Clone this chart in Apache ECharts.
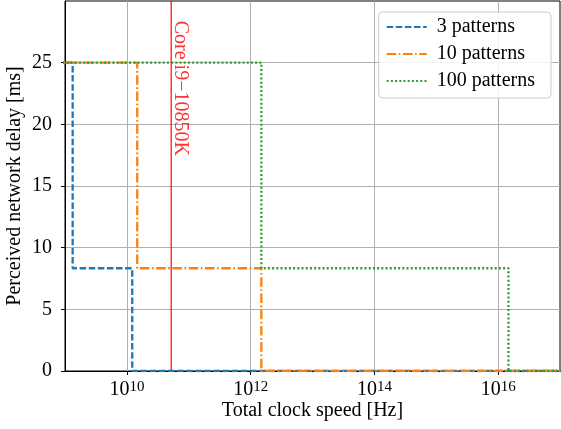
<!DOCTYPE html>
<html>
<head>
<meta charset="utf-8">
<script src="https://cdn.jsdelivr.net/npm/echarts@6/dist/echarts.min.js"></script>
<style>html,body{margin:0;padding:0;background:#fff;}#c{width:561px;height:429px;}</style>
</head>
<body>
<div id="c"></div>
<script>
const seriesNames = ['3 patterns', '10 patterns', '100 patterns'];
const delays = [25, 25, 8.33, 8.33, 0, 0];
const speed3 = [1e8, 1.33e9, 1.33e9, 1.22e10, 1.22e10, 1e18];
const speed10 = [1e8, 1.47e10, 1.47e10, 1.49e12, 1.49e12, 1e18];
const speed100 = [1e8, 1.49e12, 1.49e12, 1.47e16, 1.47e16, 1e18];
const cpuSpeed = 5.2e10;
const cpuLineY = [0, 30];
const cpuLabel = 'Core i9\u221210850K';
const cpuLabelY = 28.4;
const xTicks = [1e10, 1e12, 1e14, 1e16];
const yTicks = [0, 5, 10, 15, 20, 25];

const FONT = 'Liberation Serif';
const RED = '#ff0000';
const colors = ['#1f77b4', '#ff7f0e', '#2ca02c'];
const dashes = [[6.5, 2.6], [9.5, 2.6, 1.6, 2.6], [2, 2.2]];
const speeds = [speed3, speed10, speed100];

function pairs(xs, ys) { return xs.map((x, i) => [x, ys[i]]); }

const chart = echarts.init(document.getElementById('c'), null, {renderer: 'canvas'});

const series = seriesNames.map((name, i) => ({
  name: name,
  type: 'line',
  data: pairs(speeds[i], delays),
  symbol: 'none',
  clip: true,
  lineStyle: {color: colors[i], width: 2.3, type: dashes[i], cap: 'butt'},
  itemStyle: {color: colors[i]},
  z: 3 + i
}));

series.push({
  name: 'cpuLine',
  type: 'line',
  data: cpuLineY.map(y => [cpuSpeed, y]),
  symbol: 'none',
  clip: true,
  lineStyle: {color: RED, width: 1.2, type: 'solid'},
  itemStyle: {color: RED},
  z: 2
});

series.push({
  name: 'cpuText',
  type: 'scatter',
  data: [[cpuSpeed, cpuLabelY]],
  symbolSize: 0.01,
  itemStyle: {color: RED},
  z: 10,
  label: {
    show: true,
    formatter: cpuLabel,
    position: 'right',
    distance: 9,
    rotate: -90,
    align: 'left',
    verticalAlign: 'middle',
    color: RED,
    fontFamily: FONT,
    fontSize: 20
  }
});

chart.setOption({
  animation: false,
  backgroundColor: '#fff',
  grid: {left: 65, right: 1, top: 1, bottom: 58, outerBoundsMode: 'none', containLabel: false, show: true, borderColor: '#000', borderWidth: 1, backgroundColor: 'transparent'},
  legend: {
    data: seriesNames,
    orient: 'vertical',
    right: 10,
    top: 12,
    padding: [5, 16, 7, 7],
    itemWidth: 40,
    itemHeight: 14,
    itemGap: 7,
    itemStyle: {color: 'transparent', borderColor: 'transparent', borderWidth: 0, opacity: 0},
    backgroundColor: 'rgba(255,255,255,0.85)',
    borderColor: '#cccccc',
    borderWidth: 1,
    borderRadius: 4,
    textStyle: {fontFamily: FONT, fontSize: 20, color: '#000', lineHeight: 20, padding: [0, 0, 0, 5]}
  },
  xAxis: {
    type: 'log',
    logBase: 10,
    min: 1e9,
    max: 1e17,
    name: 'Total clock speed [Hz]',
    nameLocation: 'middle',
    nameGap: 30,
    nameMoveOverlap: false,
    nameTextStyle: {fontFamily: FONT, fontSize: 20, color: '#000'},
    axisLine: {show: true, lineStyle: {color: '#000', width: 1}},
    axisTick: {show: true, length: 4, customValues: xTicks, lineStyle: {color: '#000'}},
    minorTick: {show: false},
    splitLine: {show: true, lineStyle: {color: '#b0b0b0', width: 1}},
    axisLabel: {
      customValues: xTicks,
      margin: 9,
      formatter: function (v) { return '{b|10}{s|' + Math.round(Math.log10(v)) + '}'; },
      rich: {
        b: {fontFamily: FONT, fontSize: 20, color: '#000', lineHeight: 20, verticalAlign: 'bottom'},
        s: {fontFamily: FONT, fontSize: 15, color: '#000', lineHeight: 14, verticalAlign: 'top'}
      }
    }
  },
  yAxis: {
    type: 'value',
    min: 0,
    max: 30,
    interval: 5,
    name: 'Perceived network delay [ms]',
    nameLocation: 'middle',
    nameGap: 40,
    nameMoveOverlap: false,
    nameTextStyle: {fontFamily: FONT, fontSize: 20, color: '#000'},
    axisLine: {show: true, lineStyle: {color: '#000', width: 1}},
    axisTick: {show: true, length: 4, lineStyle: {color: '#000'}},
    splitLine: {show: true, showMinLine: false, showMaxLine: false, lineStyle: {color: '#b0b0b0', width: 1}},
    axisLabel: {
      showMaxLabel: false,
      margin: 13,
      fontFamily: FONT,
      fontSize: 20,
      color: '#000',
      formatter: function (v) { return yTicks.indexOf(v) >= 0 ? String(v) : ''; }
    }
  },
  series: series
});
</script>
</body>
</html>
